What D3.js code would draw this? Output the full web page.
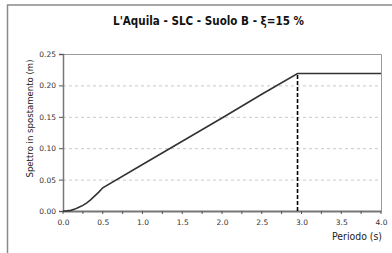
<!DOCTYPE html>
<html><head><meta charset="utf-8">
<script src="https://cdn.jsdelivr.net/npm/d3@7"></script>
<style>
html,body{margin:0;padding:0;background:#fff;}
svg{display:block;}
text{font-family:Tahoma,"DejaVu Sans",sans-serif;}
</style></head><body>
<svg id="c" width="392" height="253"></svg>
<script>
const title = "L'Aquila - SLC - Suolo B - ξ=15 %";
const xLabel = "Periodo (s)";
const yLabel = "Spettro in spostamento (m)";
const periods = [0, 0.05, 0.10, 0.15, 0.20, 0.25, 0.30, 0.35, 0.40, 0.45, 0.50, 1.00, 1.50, 2.00, 2.50, 2.95, 4.00];
const sd      = [0, 0.0002, 0.001, 0.003, 0.006, 0.009, 0.013, 0.018, 0.024, 0.030, 0.037, 0.074, 0.111, 0.148, 0.186, 0.219, 0.219];
const tD = 2.95, sdD = 0.219;
const xTicks = [0, 0.5, 1.0, 1.5, 2.0, 2.5, 3.0, 3.5, 4.0];
const xMinorTicks = [0,0.25,0.5,0.75,1,1.25,1.5,1.75,2,2.25,2.5,2.75,3,3.25,3.5,3.75,4];
const yTicks = [0, 0.05, 0.10, 0.15, 0.20, 0.25];

const svg = d3.select("#c");
const L = 63, R = 381, T = 54, B = 211;
const x = d3.scaleLinear().domain([0, 4]).range([L, R]);
const y = d3.scaleLinear().domain([0, 0.25]).range([B, T]);

// outer frame
svg.append("path").attr("d", "M7.5,253 V5 H392").attr("fill","none").attr("stroke","#8a8a8a").attr("stroke-width",1.5);

svg.append("text").attr("x", 208.5).attr("y", 25).attr("text-anchor","middle")
  .attr("font-size", 11.5).attr("font-weight","bold").attr("fill","#111")
  .attr("textLength", 191).attr("lengthAdjust","spacingAndGlyphs").text(title);

// grid
svg.append("g").selectAll("line").data(yTicks.filter(d => d > 0 && d < 0.25)).join("line")
  .attr("x1", L).attr("x2", R).attr("y1", d => y(d)+0.5).attr("y2", d => y(d)+0.5)
  .attr("stroke","#c8c8c8").attr("stroke-dasharray","3,3").attr("stroke-width",1);

// plot frame top/right
svg.append("path").attr("d", `M${L},${T+0.5} H${R+0.5} V${B}`).attr("fill","none").attr("stroke","#9a9a9a").attr("stroke-width",1);

// y axis
const yAxis = d3.axisLeft(y).tickValues(yTicks).tickFormat(d3.format(".2f")).tickSize(4).tickPadding(3);
const gy = svg.append("g").attr("transform", `translate(${L},0)`).call(yAxis);
gy.select(".domain").attr("stroke","#777").attr("stroke-width",1.5);
gy.selectAll(".tick line").attr("stroke","#555");
gy.selectAll("text").attr("font-size",7.5).attr("fill","#333").attr("font-family","Tahoma,'DejaVu Sans',sans-serif");

// x axis
const xAxis = d3.axisBottom(x).tickValues(xTicks).tickFormat(d3.format(".1f")).tickSize(0).tickPadding(9);
const gx = svg.append("g").attr("transform", `translate(0,${B})`).call(xAxis);
gx.select(".domain").attr("stroke","#777").attr("stroke-width",2);
gx.selectAll("text").attr("font-size",7.5).attr("fill","#333").attr("font-family","Tahoma,'DejaVu Sans',sans-serif");
svg.append("g").selectAll("line").data(xMinorTicks).join("line")
  .attr("x1", d => x(d)).attr("x2", d => x(d)).attr("y1", B).attr("y2", B+3)
  .attr("stroke","#555").attr("stroke-width",1);

// labels
svg.append("text").attr("transform", `translate(33,118.5) rotate(-90)`).attr("text-anchor","middle")
  .attr("font-size", 9.5).attr("fill","#222")
  .attr("textLength", 118).attr("lengthAdjust","spacingAndGlyphs").text(yLabel);
svg.append("text").attr("x", R+1).attr("y", 240).attr("text-anchor","end")
  .attr("font-size", 10).attr("fill","#222")
  .attr("textLength", 50).attr("lengthAdjust","spacingAndGlyphs").text(xLabel);

// curve
const pts = periods.map((p,i) => [p, sd[i]]);
svg.append("path").datum(pts)
  .attr("d", d3.line().x(d => x(d[0])).y(d => y(d[1])))
  .attr("fill","none").attr("stroke","#333").attr("stroke-width",1.6);

// TD dashed line
svg.append("line").attr("x1", x(tD)).attr("x2", x(tD)).attr("y1", y(0)).attr("y2", y(sdD))
  .attr("stroke","#000").attr("stroke-width",1.6).attr("stroke-dasharray","4,2");
</script></body></html>
